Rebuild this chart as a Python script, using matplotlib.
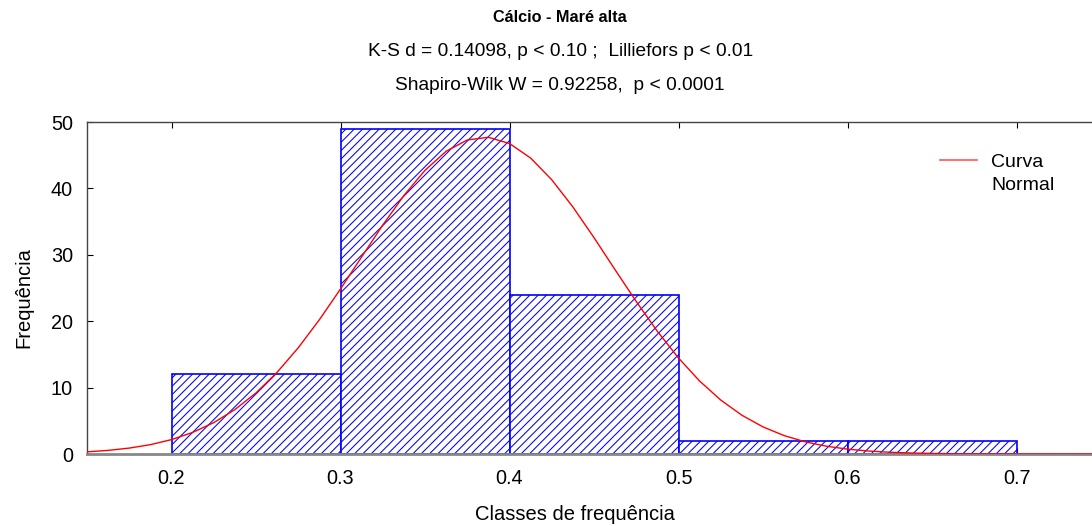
import numpy as np
import matplotlib
matplotlib.use("Agg")
import matplotlib.pyplot as plt
from matplotlib.lines import Line2D

plt.rcParams['font.family'] = ['Liberation Sans', 'DejaVu Sans']
plt.rcParams['hatch.linewidth'] = 0.75

bin_edges = [0.2, 0.3, 0.4, 0.5, 0.6, 0.7]
counts = [12, 49, 24, 2, 2]
normal_mean = 0.385
normal_sd = 0.0744
n_total = sum(counts)
bin_width = 0.1
xticks = [0.2, 0.3, 0.4, 0.5, 0.6, 0.7]
yticks = [0, 10, 20, 30, 40, 50]

fig = plt.figure(figsize=(10.92, 5.26), dpi=100)
ax = fig.add_axes([87/1092, (526-454)/526, 1014/1092, 332/526])

lefts = bin_edges[:-1]
ax.bar(lefts, counts, width=bin_width, align='edge', facecolor='white',
       edgecolor='#0000ff', hatch='////', linewidth=1.2, zorder=2)

xs = np.arange(0.15, 0.76, 0.0125)
ys = n_total * bin_width / (normal_sd * np.sqrt(2 * np.pi)) * np.exp(-(xs - normal_mean) ** 2 / (2 * normal_sd ** 2))
curve, = ax.plot(xs, ys, color='red', linewidth=1.0, zorder=3)

ax.set_xlim(0.15, 0.75)
ax.set_ylim(0, 50)
ax.set_xticks(xticks)
ax.set_xticklabels([f"{t:.1f}" for t in xticks])
ax.set_yticks(yticks)
ax.tick_params(axis='both', direction='in', length=4, labelsize=14.3, colors='black',
               top=True, right=True)
ax.tick_params(axis='y', pad=10)
ax.tick_params(axis='x', pad=11)
for s in ax.spines.values():
    s.set_color('#444444')
    s.set_linewidth(1.0)
ax.spines['bottom'].set_color('#888888')
ax.spines['bottom'].set_linewidth(2.0)

ax.set_xlabel('Classes de frequência', fontsize=14.5)
ax.set_ylabel('Frequência', fontsize=14.5)
ax.xaxis.set_label_coords(0.481, -0.154)
ax.yaxis.set_label_coords(-0.053, 0.47)

h1 = Line2D([], [], color='#ff5555', linewidth=1.2)
h2 = Line2D([], [], color='none')
leg = ax.legend([h1, h2], ['Curva', 'Normal'], loc='upper left',
                bbox_to_anchor=(0.841, 0.905), frameon=False, fontsize=14,
                handlelength=1.9, handletextpad=0.75, borderaxespad=0,
                borderpad=0, labelspacing=0.25)

fig.text(0.513, 1 - 18/526, 'Cálcio - Maré alta', ha='center', va='center',
         fontsize=11.7, fontweight='bold')
fig.text(0.513, 1 - 52/526, 'K-S d = 0.14098, p < 0.10 ;  Lilliefors p < 0.01',
         ha='center', va='center', fontsize=13.8)
fig.text(0.513, 1 - 86/526, 'Shapiro-Wilk W = 0.92258,  p < 0.0001',
         ha='center', va='center', fontsize=13.8)

fig.savefig('out.png', dpi=100)
